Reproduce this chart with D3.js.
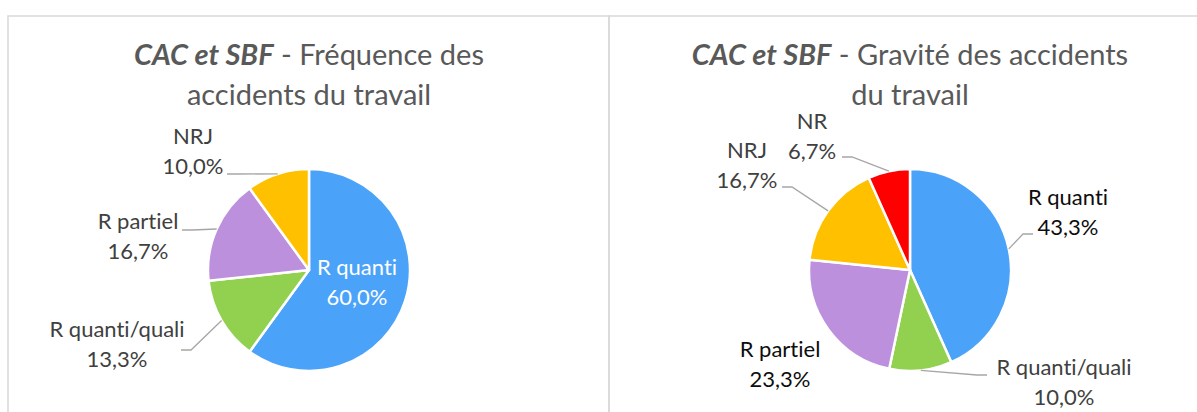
<!DOCTYPE html>
<html>
<head>
<meta charset="utf-8">
<script src="https://cdn.jsdelivr.net/npm/d3@7"></script>
<style>
  html, body { margin: 0; padding: 0; background: #fff; }
  svg { display: block; }
  text { font-family: "Lato", "Open Sans", sans-serif; font-variant-ligatures: none; font-feature-settings: "liga" 0, "clig" 0; }
</style>
</head>
<body>
<div id="chart"></div>
<script>
// --- données ---
const freqCategories = ["R quanti", "R quanti/quali", "R partiel", "NRJ"];
const freqValues = [60.0, 13.3, 16.7, 10.0];

const gravCategories = ["R quanti", "R quanti/quali", "R partiel", "NRJ", "NR"];
const gravValues = [43.3, 10.0, 23.3, 16.7, 6.7];

const titleBold = "CAC et SBF";
const freqTitle = [" - Fréquence des", "accidents du travail"];
const gravTitle = [" - Gravité des accidents", "du travail"];

const sliceColors = {
  "R quanti": "#4ba3f9",
  "R quanti/quali": "#92d050",
  "R partiel": "#bd90de",
  "NRJ": "#ffc000",
  "NR": "#ff0000"
};

// placement des étiquettes (relatif au centre du camembert)
// lx/ly : départ du trait de rappel, dir : sens du petit segment horizontal
const freqLabelLayout = [
  { dx: 48,   dy: 5,    inside: true, color: "#ffffff" },
  { dx: -192, dy: 67,   lx: -128, ly: 80,  dir: 1, color: "#404040" },
  { dx: -171, dy: -41,  lx: -127, ly: -40, dir: 1, color: "#404040" },
  { dx: -116, dy: -126, lx: -82,  ly: -96, dir: 1, color: "#404040" }
];
const gravLabelLayout = [
  { dx: 158,  dy: -65,  lx: 123,  ly: -36,  dir: -1, color: "#0d0d0d" },
  { dx: 154,  dy: 105,  lx: 77,   ly: 105,  dir: -1, color: "#404040" },
  { dx: -130, dy: 87,   noLine: true, color: "#0d0d0d" },
  { dx: -163, dy: -112, lx: -128, ly: -83,  dir: 1, color: "#404040" },
  { dx: -98,  dy: -141, lx: -68,  ly: -113, dir: 1, color: "#404040" }
];

const W = 1197, H = 412;
const radius = 101;
const lineGap = 29.5;

const svg = d3.select("#chart")
  .append("svg")
  .attr("width", W)
  .attr("height", H);

const fmt = v => d3.format(".1f")(v).replace(".", ",") + "%";

/*
* drawPanel : dessine un cadre, le titre et le camembert
*/
function drawPanel(x0, cx, cy, categories, values, title, layout) {
  let g = svg.append("g");

  // cadre
  g.append("rect")
    .attr("x", x0)
    .attr("y", 16)
    .attr("width", 601)
    .attr("height", H)
    .attr("fill", "none")
    .attr("stroke", "#d9d9d9")
    .attr("stroke-width", 1.5);

  // titre
  let t1 = g.append("text")
    .attr("x", cx)
    .attr("y", 65)
    .attr("text-anchor", "middle")
    .attr("fill", "#595959")
    .style("font-size", "29px");
  t1.append("tspan")
    .style("font-weight", "bold")
    .style("font-style", "italic")
    .text(titleBold);
  t1.append("tspan").text(title[0]);

  g.append("text")
    .attr("x", cx)
    .attr("y", 105)
    .attr("text-anchor", "middle")
    .attr("fill", "#595959")
    .style("font-size", "29px")
    .text(title[1]);

  let pie = d3.pie().sort(null).value(d => d.value);
  let arcs = pie(categories.map((c, i) => ({ name: c, value: values[i] })));

  let arc = d3.arc().innerRadius(0).outerRadius(radius);
  let edge = d3.arc().innerRadius(radius).outerRadius(radius);

  let pg = g.append("g").attr("transform", `translate(${cx},${cy})`);

  pg.selectAll("path")
    .data(arcs)
    .enter()
    .append("path")
    .attr("d", arc)
    .attr("fill", d => sliceColors[d.data.name])
    .attr("stroke", "#ffffff")
    .attr("stroke-width", 2.5)
    .attr("stroke-linejoin", "round");

  // traits de rappel
  pg.selectAll(".leader")
    .data(arcs.filter((d, i) => !layout[i].inside && !layout[i].noLine))
    .enter()
    .append("polyline")
    .attr("class", "leader")
    .attr("fill", "none")
    .attr("stroke", "#a6a6a6")
    .attr("stroke-width", 1.3)
    .attr("points", d => {
      let L = layout[d.index];
      let p = edge.centroid(d);
      return [[L.lx, L.ly], [L.lx + 10 * L.dir, L.ly], p].map(q => q.join(",")).join(" ");
    });

  // étiquettes
  let labels = pg.selectAll(".lbl")
    .data(arcs)
    .enter()
    .append("text")
    .attr("class", "lbl")
    .attr("text-anchor", "middle")
    .attr("fill", (d, i) => layout[i].color)
    .style("font-size", "22px");

  labels.append("tspan")
    .attr("x", (d, i) => layout[i].dx)
    .attr("y", (d, i) => layout[i].dy)
    .text(d => d.data.name);
  labels.append("tspan")
    .attr("x", (d, i) => layout[i].dx)
    .attr("y", (d, i) => layout[i].dy + lineGap)
    .text(d => fmt(d.data.value));
}

drawPanel(8, 309, 270, freqCategories, freqValues, freqTitle, freqLabelLayout);
drawPanel(609, 910, 270, gravCategories, gravValues, gravTitle, gravLabelLayout);
</script>
</body>
</html>
